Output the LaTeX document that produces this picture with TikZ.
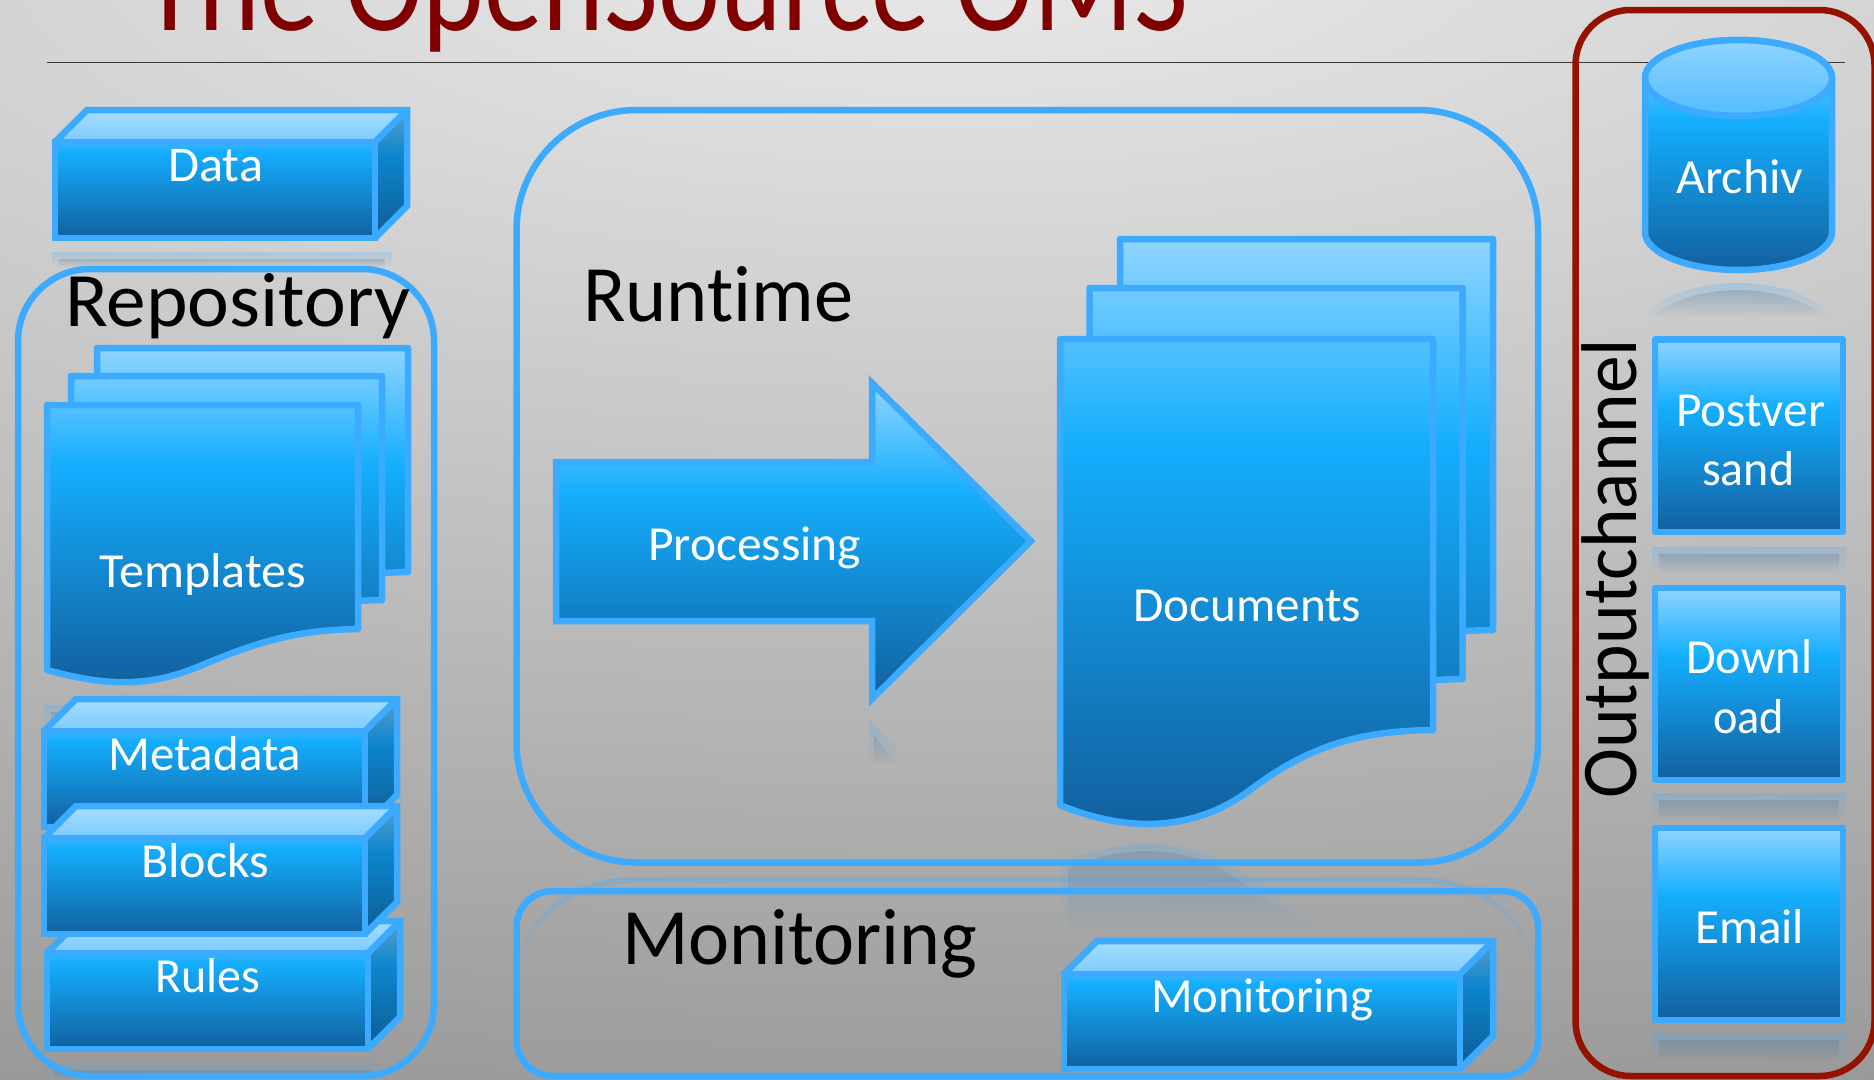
\documentclass[tikz,border=0pt]{standalone}
\usepackage{fontspec}
\usepackage{graphicx}
\setmainfont{Carlito}[Ligatures=NoCommon]
\usetikzlibrary{fadings}
\definecolor{stk}{HTML}{3CAAFF}
\definecolor{redbox}{HTML}{961200}
\definecolor{ttl}{HTML}{800000}
\definecolor{gtop}{HTML}{90D4FF}
\definecolor{gmid}{HTML}{14AEFE}
\definecolor{gbot}{HTML}{12609E}
\definecolor{bgA}{HTML}{EAEAEA}
\definecolor{bgB}{HTML}{989898}
\definecolor{ftop}{HTML}{38B7FF}
\definecolor{ttop}{HTML}{A6DDFF}
\definecolor{tbot}{HTML}{7CCBFF}
\definecolor{rtop}{HTML}{5C9FC9}
\definecolor{rmid}{HTML}{0C86CE}
\definecolor{rbot}{HTML}{0F5B91}
\definecolor{lidA}{HTML}{90D4FF}
\definecolor{lidB}{HTML}{52BCFF}
\definecolor{rflg}{HTML}{5A6A76}
\pgfdeclareradialshading{bgshade}{\pgfpoint{0bp}{0bp}}{color(0bp)=(bgA); color(25bp)=(bgB); color(100bp)=(bgB)}
\pgfdeclareverticalshading{glossy}{100bp}{color(0bp)=(gbot); color(25bp)=(gbot); color(57.5bp)=(gmid); color(75bp)=(gtop); color(100bp)=(gtop)}
\pgfdeclareverticalshading{frontface}{100bp}{color(0bp)=(gbot); color(25bp)=(gbot); color(70bp)=(gmid); color(75bp)=(ftop); color(100bp)=(ftop)}
\pgfdeclareverticalshading{topface}{100bp}{color(0bp)=(tbot); color(25bp)=(tbot); color(75bp)=(ttop); color(100bp)=(ttop)}
\pgfdeclareverticalshading{sideface}{100bp}{color(0bp)=(rbot); color(25bp)=(rbot); color(57.5bp)=(rmid); color(75bp)=(rtop); color(100bp)=(rtop)}
\pgfdeclareverticalshading{lidface}{100bp}{color(0bp)=(lidB); color(25bp)=(lidB); color(75bp)=(lidA); color(100bp)=(lidA)}
\tikzset{
  stkline/.style={draw=stk,line width=6.5pt,line join=round},
  stkmiter/.style={draw=stk,line width=6.5pt,line join=miter,miter limit=10},
  rflblue/.style={fill=stk,fill opacity=.24,path fading=south},
  rflgrey/.style={fill=rflg,fill opacity=.24,path fading=south},
  rflline/.style={draw=stk,draw opacity=.3,line width=6pt,path fading=south}
}
\newcommand\lbl[7]{\node[anchor=base west,inner sep=0pt,text=#6] (#1) at (#2,#3) {\resizebox{#4pt}{\height}{\fontsize{#5pt}{#5pt}\selectfont #7}};}
\newcommand\gfill[3][stkline]{\begin{scope}\clip #2;\shade[shading=glossy] #3;\end{scope}\draw[#1] #2;}
\newcommand\cuboid[5]{%
  \shade[shading=frontface] (#1,#2) rectangle (#3,#4);
  \shade[shading=topface] (#1,#2) -- ({#1+#5},{#2-#5}) -- ({#3+#5},{#2-#5}) -- (#3,#2) -- cycle;
  \shade[shading=sideface] (#3,#2) -- ({#3+#5},{#2-#5}) -- ({#3+#5},{#4-#5}) -- (#3,#4) -- cycle;
  \draw[stkmiter] (#1,#2) rectangle (#3,#4);
  \draw[stkmiter] (#1,#2) -- ({#1+#5},{#2-#5}) -- ({#3+#5},{#2-#5}) -- ({#3+#5},{#4-#5}) -- (#3,#4);
  \draw[stkmiter] (#3,#2) -- ({#3+#5},{#2-#5});
}
\newcommand\reflrect[4]{%
  \fill[rflblue] (#1,#2) rectangle (#3,#4);
  \fill[rflgrey] ({#1+7},{#2+7}) rectangle ({#3-7},#4);
}
\newcommand\docT[2]{({47+#1},{405+#2}) -- ({358+#1},{405+#2}) -- ({358+#1},{629+#2}) .. controls ({290+#1},{630+#2}) and ({250+#1},{645+#2}) .. ({195+#1},{668+#2}) .. controls ({140+#1},{690+#2}) and ({95+#1},{683+#2}) .. ({47+#1},{670+#2}) -- cycle}
\newcommand\docD[2]{({1060+#1},{339+#2}) -- ({1433+#1},{339+#2}) -- ({1433+#1},{730+#2}) .. controls ({1360+#1},{731+#2}) and ({1310+#1},{745+#2}) .. ({1250+#1},{790+#2}) .. controls ({1190+#1},{835+#2}) and ({1120+#1},{830+#2}) .. ({1060+#1},{805+#2}) -- cycle}
\begin{document}
\begin{tikzpicture}[x=1pt,y=-1pt]
\useasboundingbox (0,0) rectangle (1874,1079);
\clip (0,0) rectangle (1874,1079);
% background
\shade[shading=bgshade] (-2650,-1260) rectangle (4550,1140);
% title and rule
\lbl{title}{141}{30}{1047}{135}{ttl}{The OpenSource OMS}
\draw[draw=black!78,line width=1.3pt] (47,62.5) -- (1845,62.5);
% reflections
\reflrect{52}{252}{392}{267}
\reflrect{44}{705}{72}{724}
\reflrect{47}{1063}{378}{1079}
\reflrect{1652}{547}{1846}{573}
\reflrect{1652}{793}{1846}{820}
\reflrect{1652}{1033}{1846}{1060}
\fill[rflblue] (869,719) -- (910,764) -- (869,764) -- cycle;
\fill[rflgrey] (874,735) -- (895,764) -- (874,764) -- cycle;
\fill[rflblue] (1642,317) .. controls (1660,295) and (1700,283) .. (1738,283) .. controls (1776,283) and (1816,295) .. (1834,317) -- cycle;
\fill[rflgrey] (1650,317) .. controls (1670,300) and (1705,290) .. (1738,290) .. controls (1771,290) and (1806,300) .. (1826,317) -- cycle;
\draw[rflline] (518,963) .. controls (530,920) and (570,880) .. (636,880) -- (1418,880) .. controls (1484,880) and (1524,920) .. (1536,963);
\fill[rflblue] (1061,930) -- (1061,863) .. controls (1120,838) and (1190,833) .. (1250,878) .. controls (1280,900) and (1310,920) .. (1345,930) -- cycle;
\fill[rflgrey] (1068,930) -- (1068,868) .. controls (1120,846) and (1185,840) .. (1245,884) .. controls (1270,902) and (1295,920) .. (1325,930) -- cycle;
% containers
\draw[stkline,rounded corners=72pt] (18,269) rectangle (434,1076);
\draw[stkline,rounded corners=120pt] (516.5,110) rectangle (1538,862.5);
\draw[stkline,rounded corners=36pt] (516.5,891) rectangle (1538,1076);
\draw[draw=redbox,line width=6.5pt,rounded corners=55pt] (1575.5,10) rectangle (1874.5,1076);
% headings
\lbl{repo}{65}{326}{345}{77}{black}{Repository}
\lbl{runtime}{583}{321}{270}{80}{black}{Runtime}
\lbl{mon}{622}{964}{355}{80}{black}{Monitoring}
\node[anchor=base west,inner sep=0pt,rotate=90] (outp) at (1636,799) {\resizebox{460pt}{\height}{\fontsize{79pt}{79pt}\selectfont Outputchannel}};
% data
\cuboid{55}{142}{375}{238}{32}
\lbl{data}{168}{181}{95}{50}{white}{Data}
% templates
\gfill{\docT{50}{-57}}{(40,348) rectangle (420,684)}
\gfill{\docT{24}{-29}}{(40,348) rectangle (420,684)}
\gfill{\docT{0}{0}}{(40,348) rectangle (420,684)}
\lbl{tmpl}{99}{587}{207}{49}{white}{Templates}
% stacked cuboids
\cuboid{44}{731}{365}{827}{32}
\cuboid{47}{953}{368}{1049}{32}
\cuboid{44}{838}{365}{934}{32}
\lbl{meta}{108}{770}{193}{49}{white}{Metadata}
\lbl{blocks}{141}{877}{128}{49}{white}{Blocks}
\lbl{rules}{155}{992}{105}{49}{white}{Rules}
% arrow
\gfill[stkmiter]{(556,462) -- (872,462) -- (872,383) -- (1031,541) -- (872,699) -- (872,621) -- (556,621) -- cycle}{(550,383) rectangle (1040,699)}
\lbl{proc}{648}{560}{213}{49}{white}{Processing}
% documents
\gfill{\docD{60}{-100}}{(1050,239) rectangle (1500,826)}
\gfill{\docD{29.5}{-51}}{(1050,239) rectangle (1500,826)}
\gfill{\docD{0}{0}}{(1050,239) rectangle (1500,826)}
\lbl{docs}{1133}{621}{228}{49}{white}{Documents}
% monitoring cuboid
\cuboid{1064}{974}{1460}{1069}{33}
\lbl{monb}{1151}{1012}{222}{49}{white}{Monitoring}
% archive cylinder
\gfill{(1645,78) arc[start angle=180,end angle=0,x radius=93.5,y radius=-38] -- (1832,232) arc[start angle=0,end angle=-180,x radius=93.5,y radius=-38] -- cycle}{(1640,40) rectangle (1838,270)}
\shade[shading=lidface] (1738.5,78) ellipse[x radius=93.5,y radius=38];
\draw[stkline] (1738.5,78) ellipse[x radius=93.5,y radius=38];
\lbl{arch}{1676}{193}{127}{49}{white}{Archiv}
% output boxes
\gfill{(1655,339.5) rectangle (1843,532)}{(1655,339.5) rectangle (1843,532)}
\lbl{post}{1676}{426}{149}{49}{white}{Postver}
\lbl{sand}{1702}{485}{92}{49}{white}{sand}
\gfill{(1655,588) rectangle (1843,780)}{(1655,588) rectangle (1843,780)}
\lbl{down}{1686}{673}{126}{49}{white}{Downl}
\lbl{oad}{1713}{733}{71}{49}{white}{oad}
\gfill{(1655,828) rectangle (1843,1020)}{(1655,828) rectangle (1843,1020)}
\lbl{email}{1695}{943}{109}{49}{white}{Email}
\end{tikzpicture}
\end{document}
